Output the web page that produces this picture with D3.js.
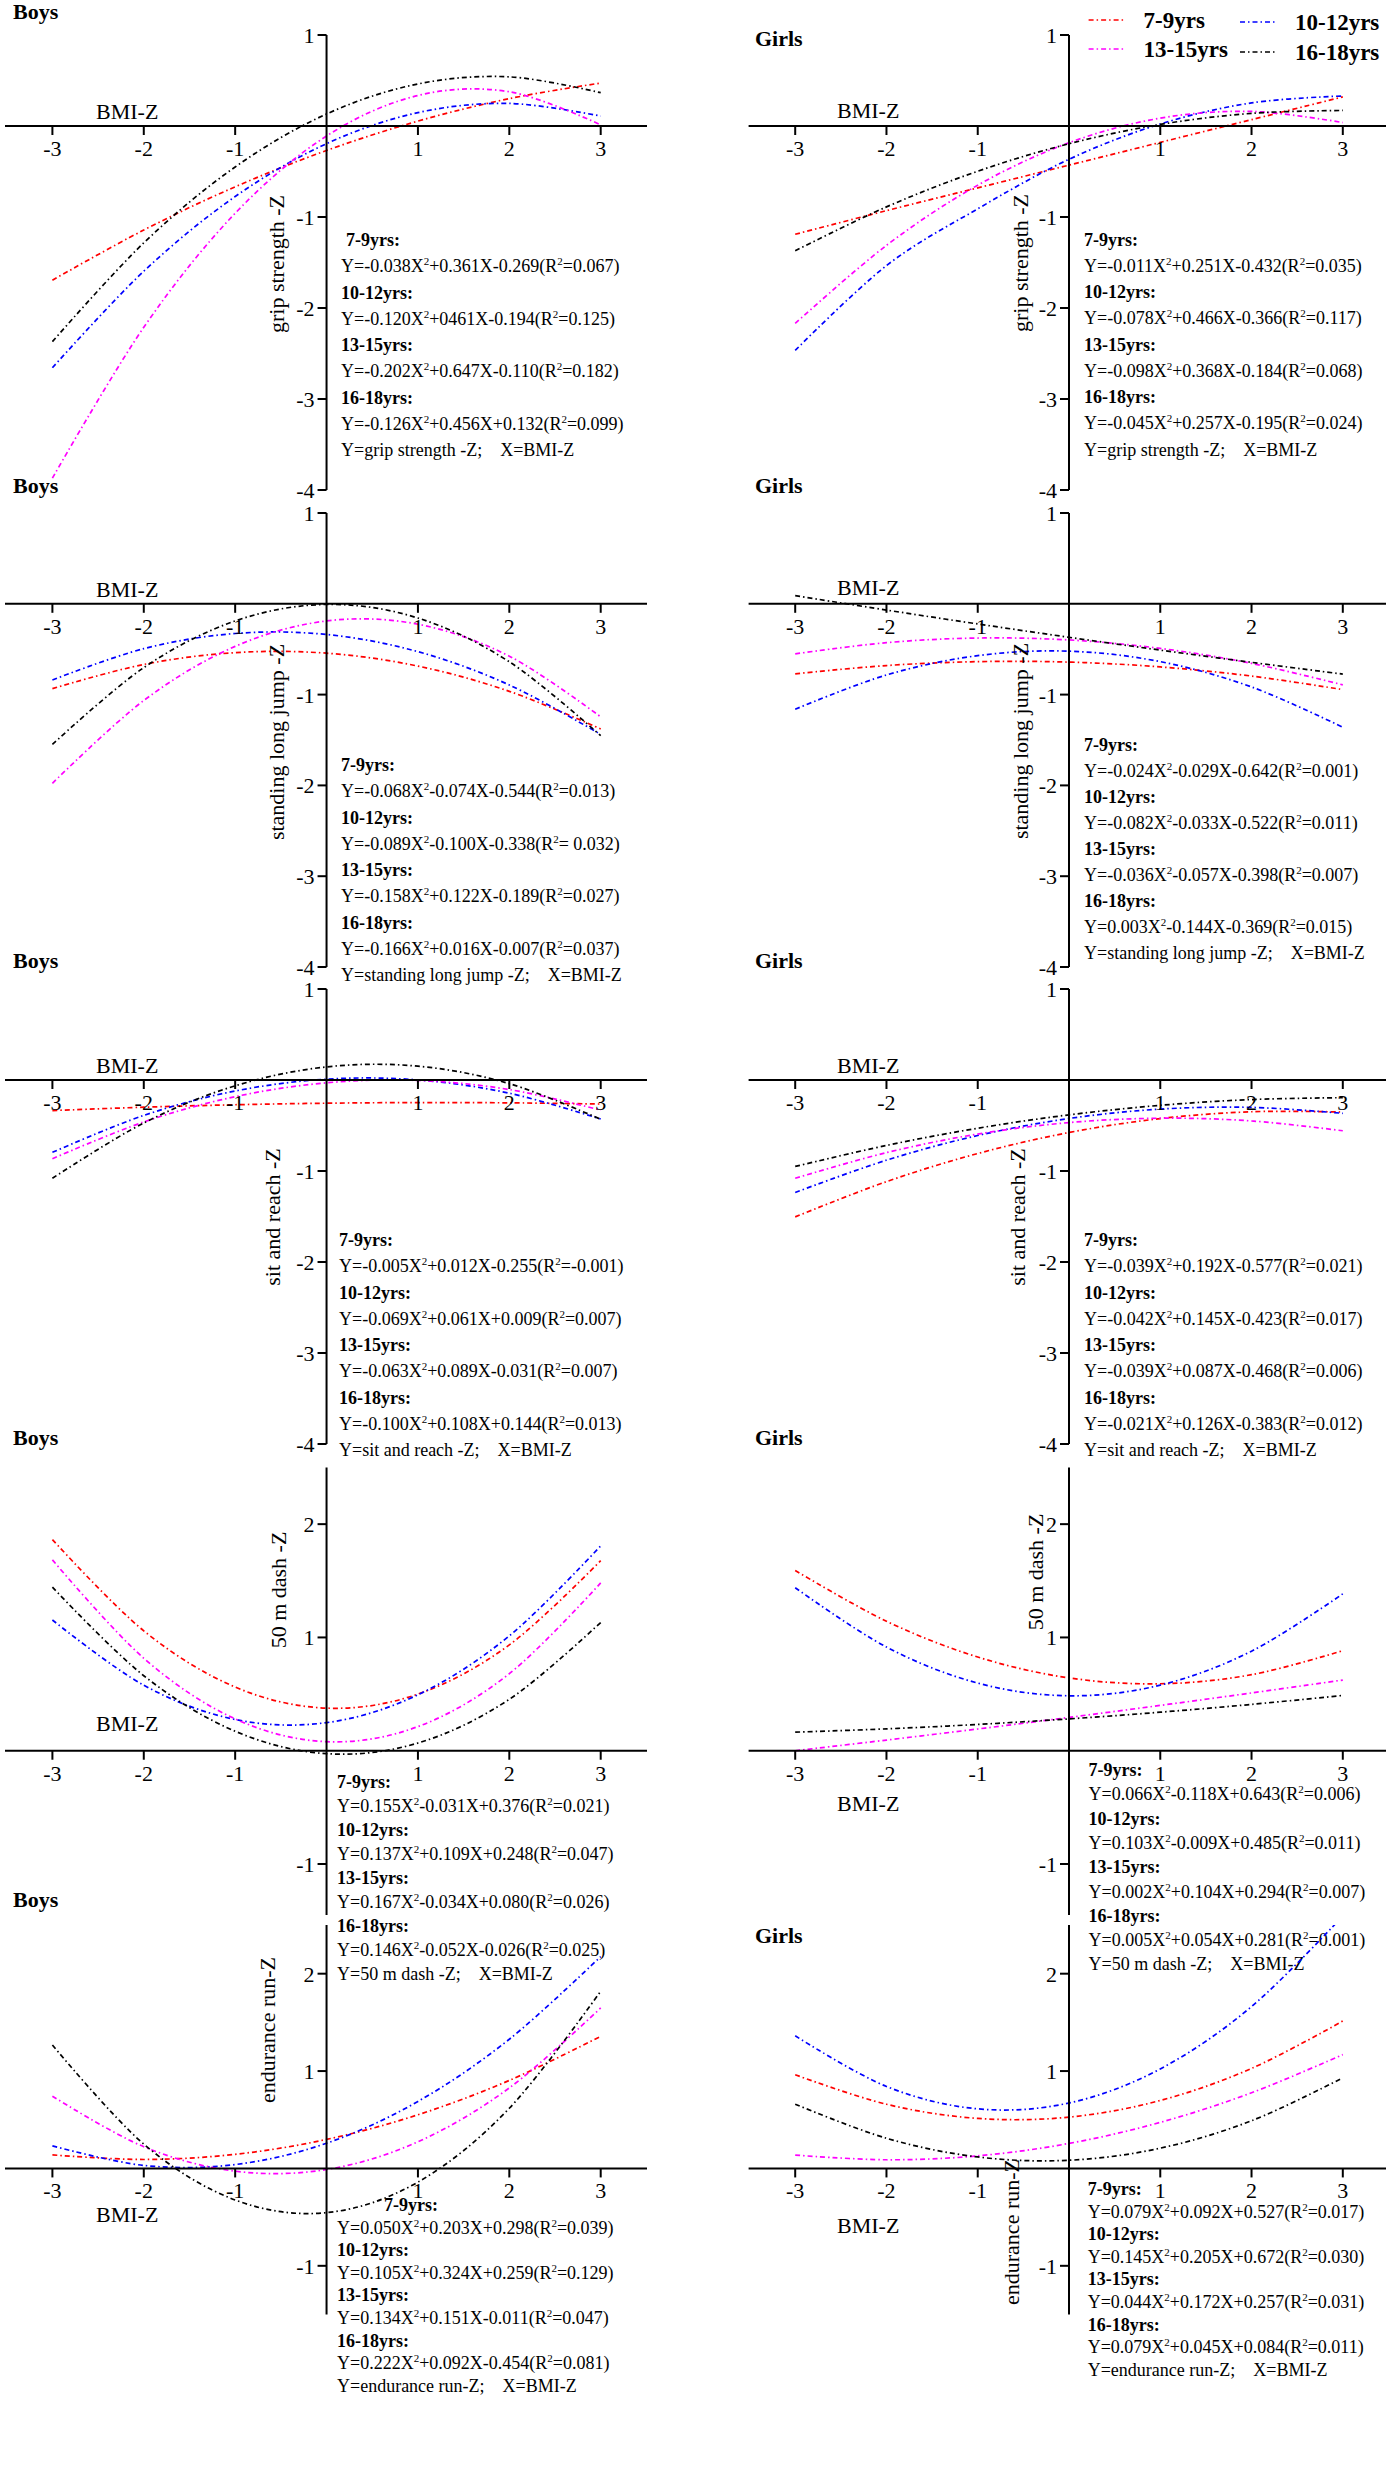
<!DOCTYPE html>
<html><head><meta charset="utf-8">
<script src="https://cdn.jsdelivr.net/npm/d3@7"></script>
<style>
body{margin:0;background:#fff}
svg{display:block}
text{font-family:"Liberation Serif","Times New Roman",serif;fill:#000}
</style>
</head><body>
<svg id="c" width="1386" height="2480"></svg>
<script>
// ---------- data ----------
const xValues = [-3, -2, -1, 0, 1, 2, 3];
const xTickValues = [-3, -2, -1, 1, 2, 3];
const groups = ["7-9yrs", "10-12yrs", "13-15yrs", "16-18yrs"];
const groupHeaders = ["7-9yrs:", "10-12yrs:", "13-15yrs:", "16-18yrs:"];
const colors = ["#ff0000", "#0000ff", "#ff00ff", "#000000"];
const sexes = ["Boys", "Girls"];
const measures = ["grip strength -Z", "standing long jump -Z", "sit and reach -Z", "50 m dash -Z", "endurance run-Z"];
const footers = ["Y=grip strength -Z;\u2003X=BMI-Z", "Y=standing long jump -Z;\u2003X=BMI-Z", "Y=sit and reach -Z;\u2003X=BMI-Z", "Y=50 m dash -Z;\u2003X=BMI-Z", "Y=endurance run-Z;\u2003X=BMI-Z"];
const yTicksFitness = [1, -1, -2, -3, -4];
const yTicksTimed = [2, 1, -1];

// values read at BMI-Z = -3..3, one row per age group
const boysGrip = [
  [-1.694, -1.143, -0.668, -0.269, 0.054, 0.301, 0.472],
  [-2.657, -1.596, -0.775, -0.194, 0.147, 0.248, 0.109],
  [-3.869, -2.212, -0.959, -0.110, 0.335, 0.376, 0.013],
  [-2.370, -1.284, -0.450, 0.132, 0.462, 0.540, 0.366]];
const girlsGrip = [
  [-1.19, -0.93, -0.68, -0.43, -0.18, 0.07, 0.32],
  [-2.466, -1.534, -0.910, -0.366, 0.022, 0.254, 0.330],
  [-2.170, -1.312, -0.650, -0.184, 0.086, 0.160, 0.038],
  [-1.371, -0.889, -0.497, -0.195, 0.017, 0.139, 0.171]];
const boysJump = [
  [-0.934, -0.668, -0.538, -0.544, -0.686, -0.964, -1.378],
  [-0.839, -0.494, -0.327, -0.338, -0.527, -0.894, -1.439],
  [-1.977, -1.065, -0.469, -0.189, -0.225, -0.577, -1.245],
  [-1.549, -0.703, -0.189, -0.007, -0.157, -0.639, -1.453]];
const girlsJump = [
  [-0.771, -0.680, -0.637, -0.642, -0.695, -0.796, -0.945],
  [-1.161, -0.784, -0.571, -0.522, -0.637, -0.916, -1.359],
  [-0.551, -0.428, -0.377, -0.398, -0.491, -0.656, -0.893],
  [0.090, -0.069, -0.222, -0.369, -0.510, -0.645, -0.774]];
const boysReach = [
  [-0.336, -0.299, -0.272, -0.255, -0.248, -0.251, -0.264],
  [-0.795, -0.389, -0.121, 0.009, 0.001, -0.145, -0.429],
  [-0.865, -0.461, -0.183, -0.031, -0.005, -0.105, -0.331],
  [-1.080, -0.472, -0.064, 0.144, 0.152, -0.040, -0.432]];
const girlsReach = [
  [-1.504, -1.117, -0.808, -0.577, -0.424, -0.349, -0.352],
  [-1.236, -0.881, -0.610, -0.423, -0.320, -0.301, -0.366],
  [-1.080, -0.798, -0.594, -0.468, -0.420, -0.450, -0.558],
  [-0.950, -0.719, -0.530, -0.383, -0.278, -0.215, -0.194]];
const boysDash = [
  [1.864, 1.058, 0.562, 0.376, 0.500, 0.934, 1.678],
  [1.154, 0.578, 0.276, 0.248, 0.494, 1.014, 1.808],
  [1.685, 0.816, 0.281, 0.080, 0.213, 0.680, 1.481],
  [1.444, 0.662, 0.172, -0.026, 0.068, 0.454, 1.132]];
const girlsDash = [
  [1.591, 1.143, 0.827, 0.643, 0.591, 0.671, 0.883],
  [1.439, 0.915, 0.597, 0.485, 0.579, 0.879, 1.385],
  [0.000, 0.094, 0.192, 0.294, 0.400, 0.510, 0.624],
  [0.164, 0.193, 0.232, 0.281, 0.340, 0.409, 0.488]];
const boysRun = [
  [0.139, 0.092, 0.145, 0.298, 0.551, 0.904, 1.357],
  [0.232, 0.031, 0.040, 0.259, 0.688, 1.327, 2.176],
  [0.742, 0.223, -0.028, -0.011, 0.274, 0.827, 1.648],
  [1.268, 0.250, -0.324, -0.454, -0.140, 0.618, 1.820]];
const girlsRun = [
  [0.962, 0.659, 0.514, 0.527, 0.698, 1.027, 1.514],
  [1.362, 0.842, 0.612, 0.672, 1.022, 1.662, 2.592],
  [0.137, 0.089, 0.129, 0.257, 0.473, 0.777, 1.169],
  [0.660, 0.310, 0.118, 0.084, 0.208, 0.490, 0.930]];

const boysGripEq = ["Y=-0.038X^2+0.361X-0.269(R^2=0.067)", "Y=-0.120X^2+0461X-0.194(R^2=0.125)", "Y=-0.202X^2+0.647X-0.110(R^2=0.182)", "Y=-0.126X^2+0.456X+0.132(R^2=0.099)"];
const girlsGripEq = ["Y=-0.011X^2+0.251X-0.432(R^2=0.035)", "Y=-0.078X^2+0.466X-0.366(R^2=0.117)", "Y=-0.098X^2+0.368X-0.184(R^2=0.068)", "Y=-0.045X^2+0.257X-0.195(R^2=0.024)"];
const boysJumpEq = ["Y=-0.068X^2-0.074X-0.544(R^2=0.013)", "Y=-0.089X^2-0.100X-0.338(R^2= 0.032)", "Y=-0.158X^2+0.122X-0.189(R^2=0.027)", "Y=-0.166X^2+0.016X-0.007(R^2=0.037)"];
const girlsJumpEq = ["Y=-0.024X^2-0.029X-0.642(R^2=0.001)", "Y=-0.082X^2-0.033X-0.522(R^2=0.011)", "Y=-0.036X^2-0.057X-0.398(R^2=0.007)", "Y=0.003X^2-0.144X-0.369(R^2=0.015)"];
const boysReachEq = ["Y=-0.005X^2+0.012X-0.255(R^2=-0.001)", "Y=-0.069X^2+0.061X+0.009(R^2=0.007)", "Y=-0.063X^2+0.089X-0.031(R^2=0.007)", "Y=-0.100X^2+0.108X+0.144(R^2=0.013)"];
const girlsReachEq = ["Y=-0.039X^2+0.192X-0.577(R^2=0.021)", "Y=-0.042X^2+0.145X-0.423(R^2=0.017)", "Y=-0.039X^2+0.087X-0.468(R^2=0.006)", "Y=-0.021X^2+0.126X-0.383(R^2=0.012)"];
const boysDashEq = ["Y=0.155X^2-0.031X+0.376(R^2=0.021)", "Y=0.137X^2+0.109X+0.248(R^2=0.047)", "Y=0.167X^2-0.034X+0.080(R^2=0.026)", "Y=0.146X^2-0.052X-0.026(R^2=0.025)"];
const girlsDashEq = ["Y=0.066X^2-0.118X+0.643(R^2=0.006)", "Y=0.103X^2-0.009X+0.485(R^2=0.011)", "Y=0.002X^2+0.104X+0.294(R^2=0.007)", "Y=0.005X^2+0.054X+0.281(R^2=0.001)"];
const boysRunEq = ["Y=0.050X^2+0.203X+0.298(R^2=0.039)", "Y=0.105X^2+0.324X+0.259(R^2=0.129)", "Y=0.134X^2+0.151X-0.011(R^2=0.047)", "Y=0.222X^2+0.092X-0.454(R^2=0.081)"];
const girlsRunEq = ["Y=0.079X^2+0.092X+0.527(R^2=0.017)", "Y=0.145X^2+0.205X+0.672(R^2=0.030)", "Y=0.044X^2+0.172X+0.257(R^2=0.031)", "Y=0.079X^2+0.045X+0.084(R^2=0.011)"];

// ---------- layout ----------
const svg = d3.select("#c");
const DASH = "5,3,1.5,3";
const cols = [
  {xr: [52.4, 600.7], ext: [5, 647], label: 13, bmi: 96},
  {xr: [795.2, 1342.8], ext: [748.6, 1386], label: 755, bmi: 837}
];
const rows = [
  {dom: [-4, 1], rng: [490, 35], ticks: yTicksFitness, lab: [19, 46], bmi: [119.3, 118.3], eqY: [246, 245.5], sp: [26.25, 26.25], eqX: [341, 1084], h0: [346, 1084], tx: [276, 1020], ty: [264, 263],
   data: [boysGrip, girlsGrip], eq: [boysGripEq, girlsGripEq]},
  {dom: [-4, 1], rng: [967, 513], ticks: yTicksFitness, lab: [492.7, 492.7], bmi: [596.7, 595], eqY: [771, 751], sp: [26.25, 26], eqX: [341, 1084], h0: [341, 1084], tx: [276, 1020], ty: [742, 741],
   data: [boysJump, girlsJump], eq: [boysJumpEq, girlsJumpEq]},
  {dom: [-4, 1], rng: [1444, 989], ticks: yTicksFitness, lab: [968, 968], bmi: [1073.3, 1073.3], eqY: [1246, 1246], sp: [26.25, 26.25], eqX: [339, 1084], h0: [339, 1084], tx: [272, 1017], ty: [1217, 1217],
   data: [boysReach, girlsReach], eq: [boysReachEq, girlsReachEq]},
  {dom: [-1.45, 2.5], rng: [1915, 1467.5], ticks: yTicksTimed, lab: [1445, 1445], bmi: [1731, 1810.7], eqY: [1788, 1776], sp: [24, 24.3], eqX: [337, 1088.6], h0: [337, 1088.6], tx: [278, 1035], ty: [1590, 1572],
   data: [boysDash, girlsDash], eq: [boysDashEq, girlsDashEq]},
  {dom: [-1.5, 2.5], rng: [2314.5, 1925], ticks: yTicksTimed, lab: [1907, 1943], bmi: [2222, 2232.7], eqY: [2211, 2195], sp: [22.6, 22.6], eqX: [337, 1087.7], h0: [384, 1087.7], tx: [267, 1011], ty: [2030, 2232],
   data: [boysRun, girlsRun], eq: [boysRunEq, girlsRunEq]}
];

function eqText(g, x, y, str, bold) {
  const t = g.append("text").attr("x", x).attr("y", y).attr("font-size", 18);
  if (bold) { t.attr("font-weight", "bold").text(str); return; }
  const parts = str.split("^2");
  parts.forEach((p, i) => {
    t.append("tspan").attr("dy", i === 0 ? 0 : 7).text(p);
    if (i < parts.length - 1) t.append("tspan").attr("dy", -7).attr("font-size", 11).text("2");
  });
}

const defs = svg.append("defs");
let clipId = 0;

rows.forEach((row, ri) => {
  cols.forEach((col, ci) => {
    const g = svg.append("g");
    const x = d3.scaleLinear().domain([-3, 3]).range(col.xr);
    const y = d3.scaleLinear().domain(row.dom).range(row.rng);
    const x0 = x(0), y0 = y(0);

    // curves
    const id = "clip" + (clipId++);
    defs.append("clipPath").attr("id", id).append("rect")
      .attr("x", col.xr[0] - 10).attr("y", row.rng[1])
      .attr("width", col.xr[1] - col.xr[0] + 20).attr("height", row.rng[0] - row.rng[1]);
    const line = d3.line().x(d => x(d[0])).y(d => y(d[1])).curve(d3.curveCardinal.tension(0));
    const cg = g.append("g").attr("clip-path", `url(#${id})`);
    row.data[ci].forEach((vals, si) => {
      cg.append("path").datum(xValues.map((xv, k) => [xv, vals[k]]))
        .attr("d", line).attr("fill", "none")
        .attr("stroke", colors[si]).attr("stroke-width", 1.7)
        .attr("stroke-dasharray", DASH);
    });

    // x axis
    g.append("line").attr("x1", col.ext[0]).attr("x2", col.ext[1]).attr("y1", y0).attr("y2", y0)
      .attr("stroke", "#000").attr("stroke-width", 2);
    xTickValues.forEach(v => {
      g.append("line").attr("x1", x(v)).attr("x2", x(v)).attr("y1", y0).attr("y2", y0 + 9)
        .attr("stroke", "#000").attr("stroke-width", 2);
      g.append("text").attr("x", x(v)).attr("y", y0 + 30).attr("text-anchor", "middle")
        .attr("font-size", 22).text(v);
    });
    // y axis
    g.append("line").attr("x1", x0).attr("x2", x0).attr("y1", row.rng[0]).attr("y2", row.rng[1])
      .attr("stroke", "#000").attr("stroke-width", 2);
    row.ticks.forEach(v => {
      g.append("line").attr("x1", x0 - 9).attr("x2", x0).attr("y1", y(v)).attr("y2", y(v))
        .attr("stroke", "#000").attr("stroke-width", 2);
      g.append("text").attr("x", x0 - 12).attr("y", y(v) + 8).attr("text-anchor", "end")
        .attr("font-size", 22).text(v);
    });
    // y title
    g.append("text").attr("transform", `translate(${row.tx[ci]},${row.ty[ci]}) rotate(-90)`)
      .attr("text-anchor", "middle").attr("dominant-baseline", "central")
      .attr("font-size", 22).text(measures[ri]);
    // BMI-Z
    g.append("text").attr("x", col.bmi).attr("y", row.bmi[ci]).attr("font-size", 22).text("BMI-Z");
    // panel label
    g.append("text").attr("x", col.label).attr("y", row.lab[ci]).attr("font-size", 22)
      .attr("font-weight", "bold").text(sexes[ci]);
    // equations
    let ly = row.eqY[ci];
    row.eq[ci].forEach((e, k) => {
      eqText(g, k === 0 ? row.h0[ci] : row.eqX[ci], ly, groupHeaders[k], true);
      ly += row.sp[ci];
      eqText(g, row.eqX[ci], ly, e, false);
      ly += row.sp[ci];
    });
    eqText(g, row.eqX[ci], ly, footers[ri], false);
  });
});

// legend
const legendPos = [[1088.6, 20], [1240, 22], [1088.6, 49], [1240, 52]];
const lg = svg.append("g");
groups.forEach((gname, i) => {
  const [lx, ly] = legendPos[i];
  lg.append("line").attr("x1", lx).attr("x2", lx + 36).attr("y1", ly).attr("y2", ly)
    .attr("stroke", colors[i]).attr("stroke-width", 1.7).attr("stroke-dasharray", DASH);
  lg.append("text").attr("x", lx + 55).attr("y", ly + 8).attr("font-size", 23)
    .attr("font-weight", "bold").text(gname);
});
</script>
</body></html>
